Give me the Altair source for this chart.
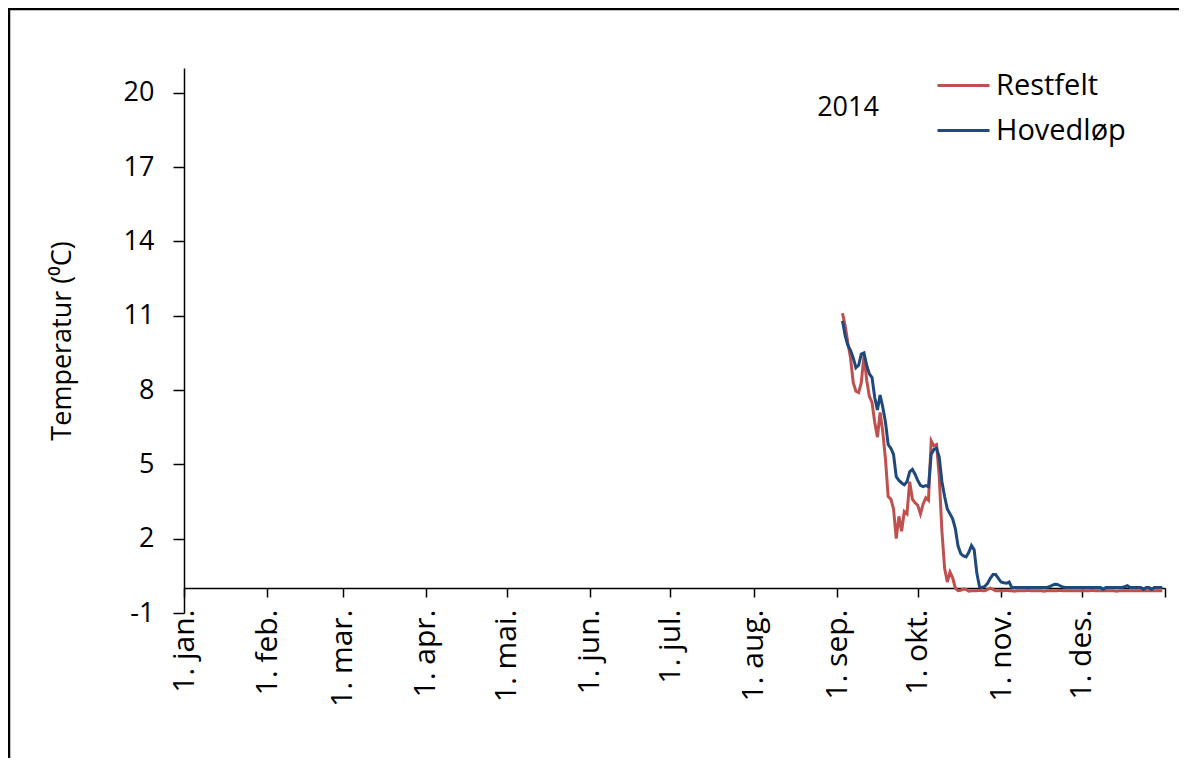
import json
import altair as alt
import pandas as pd

# ---- data ----
dates = pd.date_range("2014-09-03", "2014-12-31", freq="D").strftime("%Y-%m-%d").tolist()

restfelt = [
    # Sep 3 - Sep 30
    11.1, 10.6, 9.9, 9.3, 8.3, 7.95, 7.9, 8.3, 9.4, 8.4, 7.75, 7.5, 6.7, 6.1,
    7.1, 6.3, 5.2, 3.7, 3.6, 3.2, 2.0, 2.9, 2.3, 3.1, 3.0, 4.3, 3.6, 3.45,
    # Oct
    3.35, 3.0, 3.4, 3.65, 3.55, 5.95, 5.75, 5.8, 4.5, 2.3, 0.8, 0.25, 0.65, 0.42,
    0.0, -0.1, -0.08, -0.03, -0.05, -0.12, -0.1, -0.1, -0.1, -0.08, -0.1, -0.1,
    -0.05, 0.0, -0.05, -0.1, -0.1,
    # Nov
    -0.1, -0.1, -0.08, -0.1, -0.1, -0.12, -0.1, -0.1, -0.1, -0.1, -0.08, -0.1,
    -0.1, -0.1, -0.1, -0.1, -0.12, -0.1, -0.1, -0.1, -0.1, -0.1, -0.08, -0.1,
    -0.1, -0.1, -0.1, -0.1, -0.1, -0.1,
    # Dec
    -0.1, -0.1, -0.1, -0.1, -0.08, -0.1, -0.1, -0.1, -0.1, -0.1, -0.1, -0.1,
    -0.1, -0.12, -0.1, -0.1, -0.1, -0.1, -0.1, -0.1, -0.1, -0.1, -0.1, -0.1,
    -0.1, -0.1, -0.1, -0.1, -0.1, -0.1, -0.1,
]

hovedlop = [
    # Sep 3 - Sep 30
    10.8, 10.2, 9.8, 9.6, 9.3, 8.9, 9.0, 9.45, 9.5, 9.0, 8.65, 8.5, 7.7, 7.2,
    7.8, 7.3, 6.7, 5.8, 5.65, 5.4, 4.5, 4.35, 4.25, 4.18, 4.3, 4.7, 4.8, 4.6,
    # Oct
    4.35, 4.15, 4.1, 4.14, 4.1, 5.4, 5.6, 5.65, 5.3, 4.3, 3.7, 3.2, 3.0, 2.8,
    2.4, 1.7, 1.4, 1.3, 1.26, 1.45, 1.72, 1.55, 0.6, 0.05, 0.03, 0.08, 0.2, 0.4,
    0.55, 0.55, 0.4,
    # Nov
    0.25, 0.22, 0.2, 0.25, 0.03, 0.03, 0.03, 0.03, 0.03, 0.03, 0.03, 0.03,
    0.03, 0.03, 0.03, 0.03, 0.03, 0.03, 0.06, 0.12, 0.16, 0.15, 0.1, 0.05,
    0.03, 0.03, 0.03, 0.03, 0.03, 0.03,
    # Dec
    0.03, 0.03, 0.03, 0.03, 0.03, 0.03, 0.03, 0.03, -0.05, 0.03, 0.03, 0.03,
    0.03, 0.03, 0.03, 0.03, 0.06, 0.1, 0.03, 0.03, 0.03, 0.03, 0.03, -0.05,
    0.03, 0.03, -0.05, 0.03, 0.03, 0.03, 0.03,
]

series_names = ["Restfelt", "Hovedløp"]
series_colors = ["#C0504D", "#1F497D"]
month_labels = ["1. jan.", "1. feb.", "1. mar.", "1. apr.", "1. mai.", "1. jun.",
                "1. jul.", "1. aug.", "1. sep.", "1. okt.", "1. nov.", "1. des."]
y_ticks = [-1, 2, 5, 8, 11, 14, 17, 20]
year_label = ["2014"]

# ---- table ----
df = pd.concat([
    pd.DataFrame({"date": dates, "temp": restfelt, "series": series_names[0]}),
    pd.DataFrame({"date": dates, "temp": hovedlop, "series": series_names[1]}),
], ignore_index=True)

FONT = "Open Sans"
FS = 27

tick_dates = [alt.DateTime(year=2014, month=m, date=1, utc=True) for m in range(1, 13)]
tick_dates.append(alt.DateTime(year=2015, month=1, date=1, utc=True))
label_expr = ("utcyear(datum.value) > 2014 ? '' : "
              + json.dumps(month_labels).replace('"', "'")
              + "[utcmonth(datum.value)]")

x_enc = alt.X(
    "date:T",
    scale=alt.Scale(type="utc",
                    domain=[alt.DateTime(year=2014, month=1, date=1, utc=True),
                            alt.DateTime(year=2015, month=1, date=1, utc=True)]),
    axis=alt.Axis(values=tick_dates, labelExpr=label_expr, labelAngle=270,
                  offset=-25, tickSize=9, labelPadding=12, title=None,
                  labelFontSize=30, grid=False, labelOverlap=False),
)
y_enc = alt.Y(
    "temp:Q",
    scale=alt.Scale(domain=[-1, 21], nice=False, zero=False),
    axis=alt.Axis(values=y_ticks, labelExpr="'' + datum.value",
                  title="Temperatur (⁰C)", grid=False,
                  tickSize=11, labelPadding=19, labelFontSize=FS,
                  titleFontSize=FS, titleFontWeight="normal", titlePadding=47),
)

lines = alt.Chart(df).mark_line(strokeWidth=3).encode(
    x=x_enc,
    y=y_enc,
    color=alt.Color(
        "series:N",
        scale=alt.Scale(domain=series_names, range=series_colors),
        legend=alt.Legend(orient="none", legendX=752, legendY=-10, title=None,
                          symbolType="stroke", symbolSize=2704,
                          symbolStrokeWidth=3, labelFontSize=29, labelFont=FONT,
                          labelOffset=5, rowPadding=2, labelColor="black"),
    ),
    order=alt.Order("series:N", sort="descending"),
)

year_text = alt.Chart(pd.DataFrame({"label": year_label})).mark_text(
    font=FONT, fontSize=FS, color="black"
).encode(text="label:N", x=alt.value(664), y=alt.value(40))

frame = alt.Chart(pd.DataFrame({"a": [0]})).mark_rect(
    fillOpacity=0, stroke="black", strokeWidth=2.5
).encode(x=alt.value(-175), x2=alt.value(1010), y=alt.value(-59), y2=alt.value(720))

chart = alt.layer(frame, lines, year_text).properties(
    width=981, height=545,
    padding={"left": 176, "top": 60, "right": 14, "bottom": 145},
    autosize=alt.AutoSizeParams(type="none"),
).configure_axis(
    labelFont=FONT, titleFont=FONT, domainColor="black", tickColor="black",
    labelColor="black", titleColor="black", domainWidth=1.5, tickWidth=1.5,
).configure_view(strokeWidth=0)

chart.save("out.html", embed_options={"renderer": "svg", "actions": False})
